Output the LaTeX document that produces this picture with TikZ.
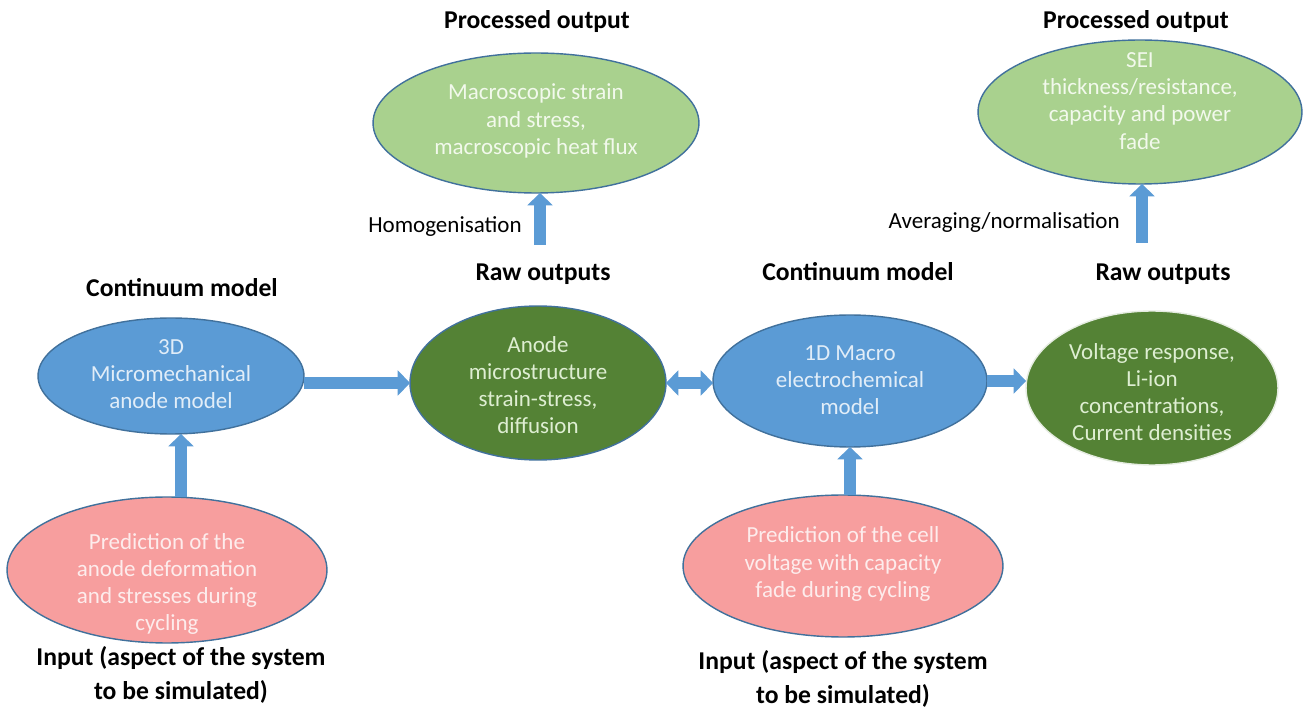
\documentclass[tikz,border=0pt]{standalone}
\usepackage{fontspec}
\setmainfont{Carlito}
\usetikzlibrary{shapes.geometric,arrows.meta}
\definecolor{blueF}{RGB}{91,155,213}
\definecolor{edgeC}{RGB}{65,113,156}
\definecolor{greenD}{RGB}{84,130,53}
\definecolor{greenL}{RGB}{169,209,142}
\definecolor{pinkF}{RGB}{247,158,158}
\definecolor{tBlue}{RGB}{225,237,248}
\definecolor{tGreenD}{RGB}{222,238,210}
\definecolor{tGreenL}{RGB}{242,249,236}
\definecolor{tPink}{RGB}{253,236,236}
\tikzset{
  ell/.style={ellipse, draw=edgeC, line width=0.8pt, inner sep=0pt, outer sep=0pt},
  intext/.style={font=\fontsize{13.1}{15.5}\selectfont, align=center, inner sep=0pt},
  title/.style={font=\bfseries\fontsize{14.6}{19.5}\selectfont, align=center, inner sep=0pt},
  side/.style={font=\fontsize{13.1}{16}\selectfont, inner sep=0pt},
  barrow/.style={draw=blueF, line width=6.8pt, -{Triangle[length=7pt,width=14.5pt,line width=0pt]}},
  bdarrow/.style={draw=blueF, line width=6.8pt, {Triangle[length=7pt,width=14.5pt,line width=0pt]}-{Triangle[length=7pt,width=14.5pt,line width=0pt]}}
}
\begin{document}
\begin{tikzpicture}[x=0.02cm,y=-0.02cm]
\useasboundingbox[fill=white] (0,0) rectangle (1306,709);

% ellipses
\node[ell, fill=blueF, minimum width=53.2mm, minimum height=23.2mm] (blueL) at (171,376) {};
\node[intext, text=tBlue] (blueLt) at (171,374) {3D\\Micromechanical\\anode model};

\node[ell, fill=greenD, minimum width=51.2mm, minimum height=30.8mm] (greenA) at (538,383) {};
\node[intext, text=tGreenD] (greenAt) at (538,385) {Anode\\microstructure\\strain-stress,\\diffusion};

\node[ell, fill=blueF, minimum width=54.8mm, minimum height=26.4mm] (blueR) at (850,381) {};
\node[intext, text=tBlue] (blueRt) at (850,380) {1D Macro\\electrochemical\\model};

\node[ell, draw=white!85!greenD, fill=greenD, minimum width=50.4mm, minimum height=30.8mm] (greenR) at (1152,388) {};
\node[intext, text=tGreenD] (greenRt) at (1152,392) {Voltage response,\\Li-ion\\concentrations,\\Current densities};

\node[ell, fill=greenL, minimum width=65.2mm, minimum height=28mm] (procL) at (536,123) {};
\node[intext, text=tGreenL] (procLt) at (536,121) {Macroscopic strain\\and stress,\\macroscopic heat flux};

\node[ell, fill=greenL, minimum width=64.8mm, minimum height=28.8mm] (procR) at (1140,112) {};
\node[intext, text=tGreenL] (procRt) at (1140,101) {SEI\\thickness/resistance,\\capacity and power\\fade};

\node[ell, fill=pinkF, minimum width=64mm, minimum height=29.2mm] (pinkL) at (167,570) {};
\node[intext, text=tPink] (pinkLt) at (167,584) {Prediction of the\\anode deformation\\and stresses during\\cycling};

\node[ell, fill=pinkF, minimum width=64mm, minimum height=28.4mm] (pinkR) at (843,566) {};
\node[intext, text=tPink] (pinkRt) at (843,564) {Prediction of the cell\\voltage with capacity\\fade during cycling};

% titles
\node[title] (tPL) at (537,22) {Processed output};
\node[title] (tPR) at (1136,22) {Processed output};
\node[title] (cmL) at (182,288) {Continuum model};
\node[title] (roL) at (543,274) {Raw outputs};
\node[title] (cmR) at (858,272) {Continuum model};
\node[title] (roR) at (1163,274) {Raw outputs};
\node[title] (inL) at (181,675) {Input (aspect of the system\\to be simulated)};
\node[title] (inR) at (843,679) {Input (aspect of the system\\to be simulated)};

\node[side, anchor=east] (hom) at (522,227) {Homogenisation};
\node[side, anchor=east] (avg) at (1120,222) {Averaging/normalisation};

% arrow anchors
\coordinate (xL) at (181,0);
\coordinate (h0) at (540,245);
\coordinate (a0) at (1142,243);

% arrows
\draw[barrow] (pinkL.north -| xL) -- (blueL.south -| xL);
\draw[barrow] (pinkR.north -| blueR.south) -- (blueR.south);
\draw[barrow] (blueL.east |- greenA.west) -- (greenA.west);
\draw[bdarrow] (greenA.east) -- (blueR.west |- greenA.east);
\draw[barrow] (blueR.east) -- (greenR.west |- blueR.east);
\draw[barrow] (h0) -- (procL.south -| h0);
\draw[barrow] (a0) -- (procR.south -| a0);
\end{tikzpicture}
\end{document}
